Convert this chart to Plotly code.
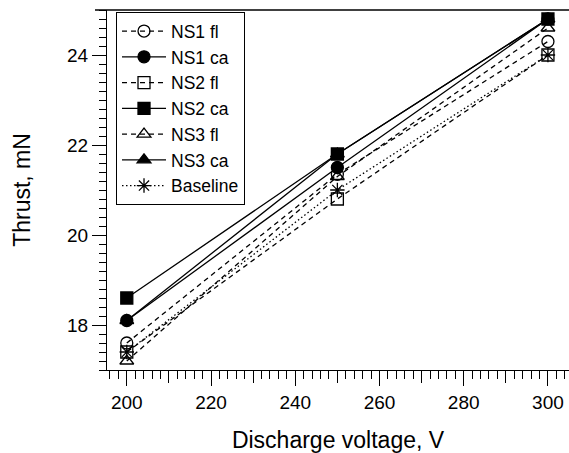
import plotly.graph_objects as go

voltage = [200, 250, 300]
series_names = ["NS1 fl", "NS1 ca", "NS2 fl", "NS2 ca", "NS3 fl", "NS3 ca", "Baseline"]
ns1_fl = [17.6, 21.35, 24.3]
ns1_ca = [18.1, 21.5, 24.8]
ns2_fl = [17.4, 20.8, 24.0]
ns2_ca = [18.6, 21.8, 24.8]
ns3_fl = [17.2, 21.3, 24.6]
ns3_ca = [18.1, 21.8, 24.8]
baseline = [17.4, 21.0, 24.0]

values = [ns1_fl, ns1_ca, ns2_fl, ns2_ca, ns3_fl, ns3_ca, baseline]
symbols = ["circle-open", "circle", "square-open", "square",
           "triangle-up-open", "triangle-up", "asterisk-open"]
dashes = ["5px,4px", "solid", "5px,4px", "solid", "5px,4px", "solid", "1.5px,2.5px"]
sizes = [12, 12, 12, 12, 12, 12, 12]

x_ticks = [200, 220, 240, 260, 280, 300]
x_mid_ticks = [210, 230, 250, 270, 290]
y_ticks = [18, 20, 22, 24]

FONT = "Liberation Sans, Arial, sans-serif"

fig = go.Figure()
for name, vals, sym, dsh, sz in zip(series_names, values, symbols, dashes, sizes):
    fig.add_trace(go.Scatter(
        x=voltage, y=vals, name=name, mode="lines+markers",
        line=dict(color="black", width=1.3, dash=dsh),
        marker=dict(symbol=sym, size=sz, color="black",
                    line=dict(color="black", width=1.3)),
    ))

# invisible trace to carry the medium tick axis
fig.add_trace(go.Scatter(x=voltage, y=baseline, xaxis="x2", mode="markers",
                         marker=dict(opacity=0), showlegend=False, hoverinfo="skip"))

fig.update_layout(
    width=569, height=453,
    margin=dict(l=107, r=0, t=10, b=83),
    paper_bgcolor="white", plot_bgcolor="white",
    font=dict(family=FONT, size=19, color="black"),
    showlegend=True,
    legend=dict(x=0.0195, y=0.994, xanchor="left", yanchor="top",
                bordercolor="black", borderwidth=1, bgcolor="white",
                font=dict(size=17.5), tracegroupgap=0, itemwidth=44),
    xaxis=dict(range=[195.3, 305], tickvals=x_ticks, ticks="outside", ticklen=15,
               tickwidth=1, tickcolor="black", showline=True, linecolor="black",
               linewidth=1, mirror=False, showgrid=False, zeroline=False,
               minor=dict(dtick=2, tick0=200, ticks="outside", ticklen=8,
                          tickcolor="black", tickwidth=1, showgrid=False),
               title=dict(text="Discharge voltage, V", standoff=24),
               tickfont=dict(size=19)),
    xaxis2=dict(overlaying="x", matches="x", side="bottom", tickvals=x_mid_ticks,
                ticks="outside", ticklen=12, tickwidth=1, tickcolor="black",
                showticklabels=False, showline=False, showgrid=False, zeroline=False),
    yaxis=dict(range=[17, 25], tickvals=y_ticks, ticks="outside", ticklen=14,
               tickwidth=1, tickcolor="black", showline=True, linecolor="black",
               linewidth=1, showgrid=False, zeroline=False,
               minor=dict(dtick=0.2, tick0=17, ticks="outside", ticklen=7,
                          tickcolor="black", tickwidth=1, showgrid=False),
               title=dict(text="Thrust, mN", standoff=30),
               tickfont=dict(size=19)),
    shapes=[dict(type="line", xref="paper", yref="paper", x0=-0.026, x1=1, y0=1, y1=1,
                 line=dict(color="black", width=1.5))],
)

fig.write_html("out.html")
